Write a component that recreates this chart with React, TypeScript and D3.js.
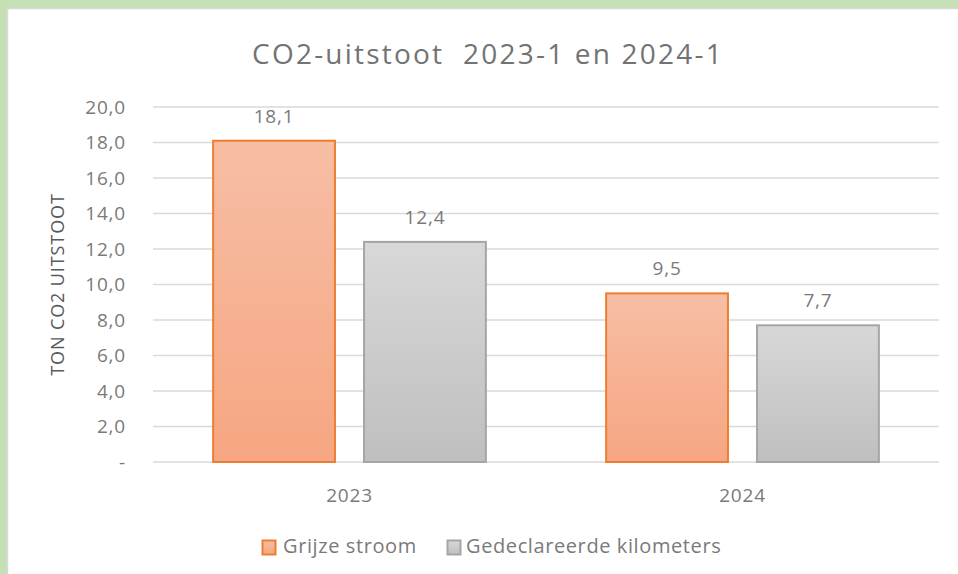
import * as d3 from "d3";

const categories = ["2023", "2024"];
const seriesNames = ["Grijze stroom", "Gedeclareerde kilometers"];
const grijzeStroom = [18.1, 9.5];
const kilometers = [12.4, 7.7];
const yTicks = [0, 2, 4, 6, 8, 10, 12, 14, 16, 18, 20];

const W = 958;
const H = 574;
const FONT = "'Open Sans', 'Liberation Sans', sans-serif";
const TEXT = "#7a7a7a";

const fmt = (v: number) => (v === 0 ? "-" : v.toFixed(1).replace(".", ","));

export default function App() {
  const plotLeft = 153;
  const plotRight = 939;
  const plotTop = 107;
  const plotBottom = 462;

  const x0 = d3.scaleBand().domain(categories).range([plotLeft, plotRight]).paddingInner(0).paddingOuter(0);
  const y = d3.scaleLinear().domain([0, 20]).range([plotBottom, plotTop]);

  const bw = x0.bandwidth();
  const barW = bw * 0.31;
  const barGap = bw * 0.074;

  const series = [
    { name: seriesNames[0], values: grijzeStroom, fill: "url(#gOrange)", stroke: "#ed7d31" },
    { name: seriesNames[1], values: kilometers, fill: "url(#gGray)", stroke: "#a5a5a5" },
  ];

  const barX = (ci: number, si: number) => {
    const center = (x0(categories[ci]) ?? 0) + bw / 2;
    const total = barW * 2 + barGap;
    return center - total / 2 + si * (barW + barGap);
  };

  return (
    <svg width={W} height={H} style={{ position: "absolute", left: 0, top: 0 }} fontFamily={FONT}>
      <defs>
        <linearGradient id="gOrange" x1="0" y1="0" x2="0" y2="1">
          <stop offset="0" stopColor="#f7bea4" />
          <stop offset="1" stopColor="#f6a682" />
        </linearGradient>
        <linearGradient id="gGray" x1="0" y1="0" x2="0" y2="1">
          <stop offset="0" stopColor="#d8d8d8" />
          <stop offset="1" stopColor="#bfbfbf" />
        </linearGradient>
      </defs>
      <rect x={0} y={0} width={W} height={H} fill="#c5e0b4" />
      <rect x={7.5} y={8.5} width={W} height={H} fill="#ffffff" stroke="#d9d9d9" strokeWidth={1.5} />

      <text
        x={488}
        y={64}
        textAnchor="middle"
        fontSize={28}
        letterSpacing={2.2}
        fill="#737373"
        style={{ whiteSpace: "pre" }}
      >
        {"CO2-uitstoot  2023-1 en 2024-1"}
      </text>

      {yTicks.map((t) => (
        <g key={t}>
          <line x1={plotLeft} x2={plotRight} y1={y(t)} y2={y(t)} stroke="#d9d9d9" strokeWidth={1.5} />
          <text x={126} y={y(t)} dy="0.35em" textAnchor="end" fontSize={19} letterSpacing={0.8} fill={TEXT}>
            {fmt(t)}
          </text>
        </g>
      ))}

      <text
        transform={`translate(64, ${(plotTop + plotBottom) / 2}) rotate(-90)`}
        textAnchor="middle"
        fontSize={18}
        letterSpacing={0.9}
        fill="#595959"
      >
        TON CO2 UITSTOOT
      </text>

      {series.map((s, si) =>
        s.values.map((v, ci) => {
          const bx = barX(ci, si);
          return (
            <g key={`${si}-${ci}`}>
              <rect
                x={bx}
                y={y(v)}
                width={barW}
                height={plotBottom - y(v)}
                fill={s.fill}
                stroke={s.stroke}
                strokeWidth={2}
              />
              <text x={bx + barW / 2} y={y(v) - 18} textAnchor="middle" fontSize={19} letterSpacing={0.8} fill={TEXT}>
                {fmt(v)}
              </text>
            </g>
          );
        })
      )}

      {categories.map((c) => (
        <text
          key={c}
          x={(x0(c) ?? 0) + bw / 2}
          y={502}
          textAnchor="middle"
          fontSize={19}
          letterSpacing={0.8}
          fill={TEXT}
        >
          {c}
        </text>
      ))}

      <g>
        <rect x={262.5} y={540.5} width={13} height={14} fill="url(#gOrange)" stroke="#ed7d31" strokeWidth={2} />
        <text x={283} y={553} fontSize={20} letterSpacing={0.6} fill={TEXT}>{seriesNames[0]}</text>
        <rect x={447.5} y={540.5} width={13} height={14} fill="url(#gGray)" stroke="#a5a5a5" strokeWidth={2} />
        <text x={466} y={553} fontSize={20} letterSpacing={0.6} fill={TEXT}>{seriesNames[1]}</text>
      </g>
    </svg>
  );
}
